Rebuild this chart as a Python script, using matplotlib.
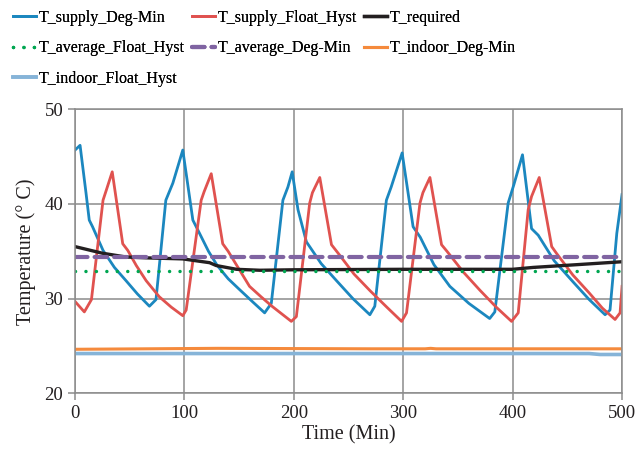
import matplotlib.pyplot as plt

plt.rcParams['font.family'] = ['Liberation Serif', 'DejaVu Serif']

# T_supply_Deg-Min
t_deg = [0, 4.6, 10, 13, 16, 25.6, 36, 46.6, 57, 68, 74, 83, 89.4, 98.5, 107.7, 113.8, 122,
         130, 140, 150, 162, 173.3, 179.4, 190, 194.6, 198.5, 203.8, 211.5, 225, 239, 254,
         269.5, 274, 284.6, 289, 299, 309, 315.5, 328, 342.6, 360, 379, 383.7, 395.9, 401,
         409, 417.3, 423.4, 438, 455, 470, 484.5, 489, 495.2, 500]
v_deg = [45.7, 46.2, 41.2, 38.3, 37.6, 35.1, 33.3, 31.9, 30.5, 29.2, 29.9, 40.4, 42.2, 45.7,
         38.3, 36.9, 35.0, 33.5, 32.1, 31.0, 29.7, 28.5, 29.5, 40.4, 41.8, 43.4, 39.4, 36.0,
         33.7, 31.9, 30.0, 28.3, 29.2, 40.4, 41.8, 45.4, 37.6, 36.5, 33.6, 31.3, 29.5, 27.9,
         28.6, 40.1, 42.0, 45.2, 37.4, 36.7, 34.0, 31.8, 29.9, 28.3, 28.8, 36.9, 41.0]

# T_supply_Float_Hyst
t_flt = [0, 8.5, 15, 25.6, 28.7, 34, 43.6, 48.2, 56, 65, 77, 88, 98.5, 101.6, 115.3, 118,
         124.5, 135, 140, 150, 159.5, 170, 180, 197.7, 202.3, 214.5, 217, 223.7, 234.4,
         240.5, 255, 270, 285, 298.5, 303, 315.3, 318, 324.4, 335, 340, 355, 370, 385, 399,
         405.1, 414.2, 417.3, 424.3, 435.7, 440, 455, 470, 482, 493.6, 498.2, 500]
v_flt = [29.7, 28.6, 29.9, 40.4, 41.5, 43.4, 35.8, 35.1, 33.5, 31.9, 30.2, 29.1, 28.2, 28.8,
         40.4, 41.3, 43.2, 35.8, 35.0, 33.1, 31.3, 30.2, 29.2, 27.6, 28.1, 40.1, 41.2, 42.8,
         35.7, 34.8, 32.6, 30.8, 29.1, 27.6, 28.5, 40.1, 41.2, 42.8, 35.7, 35.0, 32.8, 30.9,
         29.1, 27.6, 28.5, 39.4, 40.8, 42.8, 35.5, 34.8, 32.5, 30.6, 29.0, 27.8, 28.5, 31.3]

# T_required
t_req = [0, 25, 46.6, 68, 98.5, 123, 129, 147.6, 169, 200, 300, 400, 418.8, 460, 500]
v_req = [35.5, 34.8, 34.4, 34.3, 34.2, 33.8, 33.5, 33.1, 33.0, 33.05, 33.1, 33.1, 33.3, 33.6, 33.9]

# averages
t_avg = [0, 500]
v_avg_flt = [32.9, 32.9]
t_avg_deg = [0, 497]
v_avg_deg = [34.4, 34.4]

# indoor
t_in_deg = [0, 130, 270, 320, 325, 330, 500]
v_in_deg = [24.65, 24.75, 24.7, 24.7, 24.75, 24.7, 24.7]
t_in_flt = [0, 300, 470, 480, 500]
v_in_flt = [24.2, 24.2, 24.2, 24.1, 24.1]

fig = plt.figure(figsize=(6.38, 4.5), dpi=100)
ax = fig.add_axes([0.1176, 0.126, 0.8574, 0.631])

h_deg, = ax.plot(t_deg, v_deg, color='#1b87bf', lw=2, label='T_supply_Deg-Min')
h_flt, = ax.plot(t_flt, v_flt, color='#e0524f', lw=2, label='T_supply_Float_Hyst')
h_req, = ax.plot(t_req, v_req, color='#231f20', lw=2.4, label='T_required')
h_avf, = ax.plot(t_avg, v_avg_flt, color='#00a651', lw=2.5, linestyle=(0, (0.01, 3)),
                 dash_capstyle='round', label='T_average_Float_Hyst')
h_avd, = ax.plot(t_avg_deg, v_avg_deg, color='#8064a2', lw=3, linestyle=(0, (3, 1.7)),
                 dash_capstyle='round', label='T_average_Deg-Min')
h_ind, = ax.plot(t_in_deg, v_in_deg, color='#f58a3c', lw=2.2, label='T_indoor_Deg-Min')
h_inf, = ax.plot(t_in_flt, v_in_flt, color='#86b4d8', lw=2.6, label='T_indoor_Float_Hyst')

ax.set_xlim(0, 500)
ax.set_ylim(20, 50)
ax.set_xticks([0, 100, 200, 300, 400, 500])
ax.set_yticks([20, 30, 40, 50])
ax.grid(True, color='#8c8c8c', lw=1.1)
ax.set_axisbelow(True)
for s in ax.spines.values():
    s.set_color('#8c8c8c')
    s.set_linewidth(1.1)
ax.tick_params(direction='out', length=5, width=1.1, color='#8c8c8c',
               labelsize=13.5, labelcolor='#231f20')
ax.set_xlabel('Time (Min)', fontsize=14.5, color='#231f20', labelpad=2)
ax.set_ylabel('Temperature (° C)', fontsize=14.5, color='#231f20', labelpad=6)

# three legend columns placed where the reference has them
cols = [[h_deg, h_avf, h_inf], [h_flt, h_avd], [h_req, h_ind]]
xs = [0.012, 0.292, 0.562]
for hs, x in zip(cols, xs):
    leg = fig.legend(handles=hs, labels=[h.get_label() for h in hs],
                     loc='upper left', bbox_to_anchor=(x, 0.99), frameon=False,
                     fontsize=11.5, handlelength=1.45, handletextpad=0.15,
                     labelspacing=0.9, borderaxespad=0.15, borderpad=0.2)
    fig.add_artist(leg)

fig.savefig('out.png', dpi=100)
